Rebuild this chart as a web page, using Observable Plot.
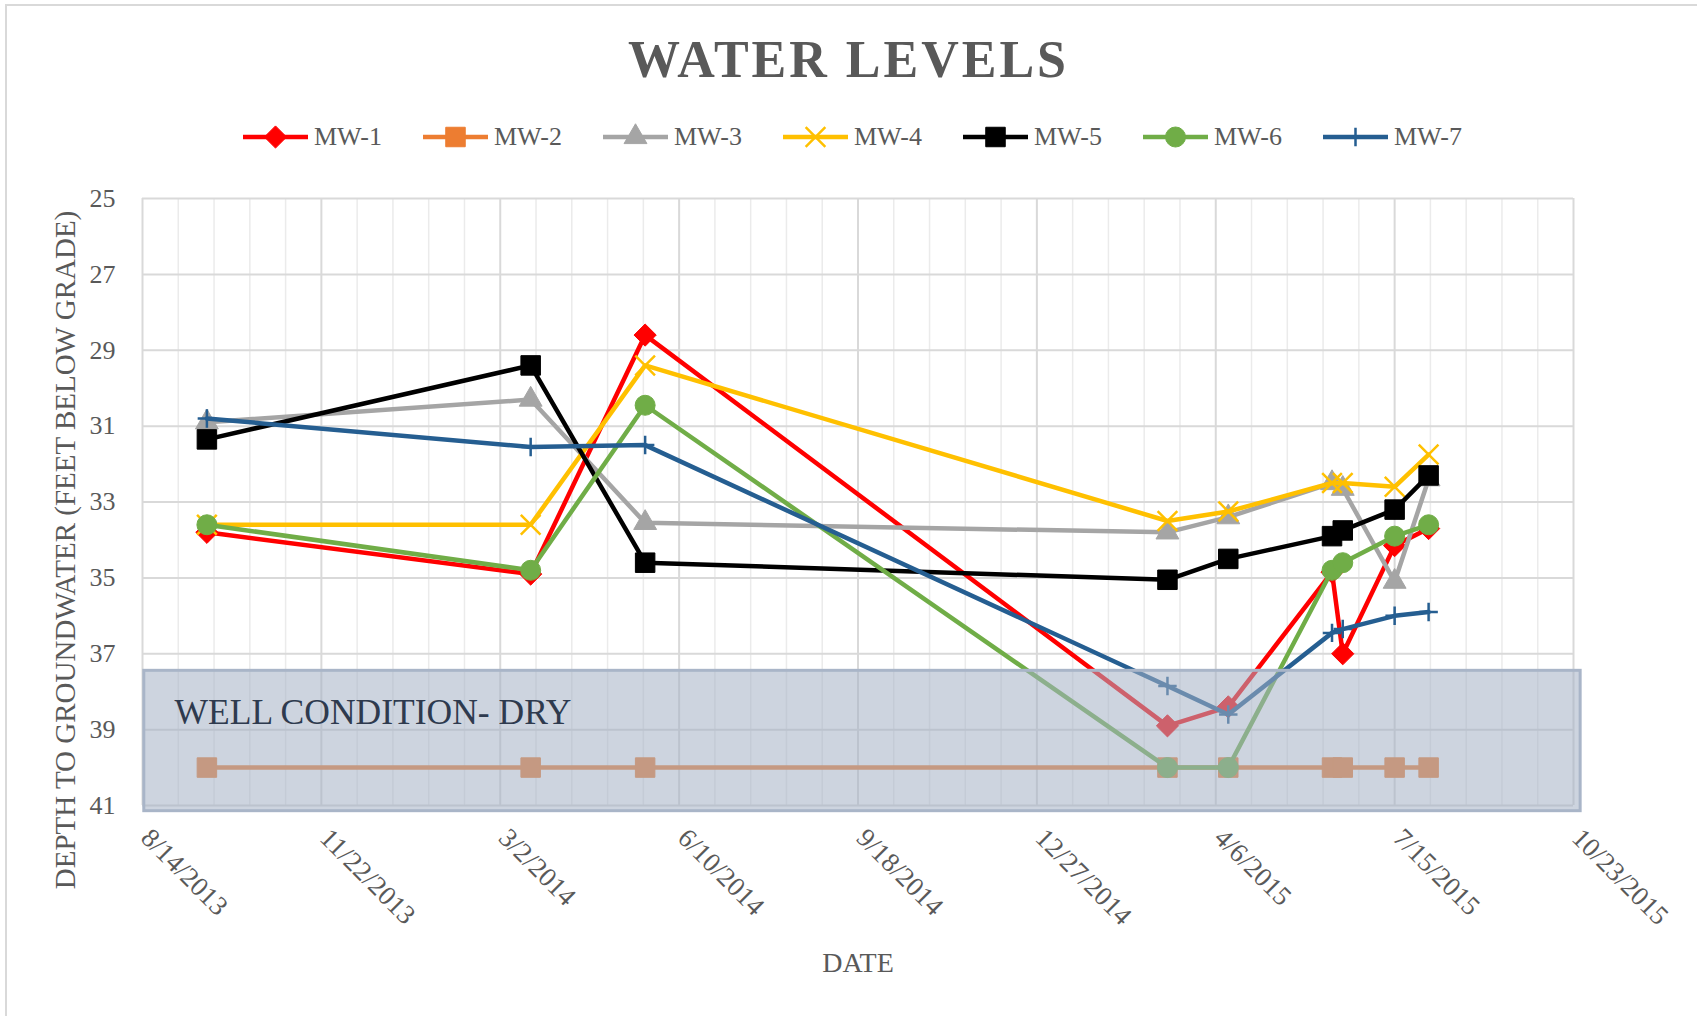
<!DOCTYPE html>
<html><head><meta charset="utf-8">
<script src="https://cdn.jsdelivr.net/npm/d3@7"></script>
<script src="https://cdn.jsdelivr.net/npm/@observablehq/plot@0.6"></script>
<style>
html,body{margin:0;padding:0;background:#fff;overflow:hidden;width:1697px;height:1016px;}
#frame{position:absolute;left:5px;top:4px;width:1800px;height:1100px;border-top:2px solid #d9d9d9;border-left:2px solid #d9d9d9;box-sizing:border-box;z-index:5;pointer-events:none;}
#title{position:absolute;left:0;top:34px;width:1697px;text-align:center;font-family:"Liberation Serif","Times New Roman",serif;font-weight:bold;font-size:52px;line-height:52px;color:#595959;letter-spacing:3px;}
#legend{position:absolute;left:0;top:120px;width:1697px;height:34px;}
.item{position:absolute;top:0;height:34px;display:flex;align-items:center;font-family:"Liberation Serif","Times New Roman",serif;font-size:26px;line-height:34px;color:#595959;}
.item svg{margin-right:6px;}
#chart{position:absolute;left:0;top:165px;}
</style></head>
<body>
<div id="frame"></div>
<div id="title">WATER LEVELS</div>
<div id="legend"></div>
<div id="chart"></div>
<script>
// ---- data ----
const sampleDates = ["9/19/2013","3/19/2014","5/22/2014","3/10/2015","4/13/2015","6/10/2015","6/16/2015","7/15/2015","8/3/2015"];
const seriesNames = ["MW-1","MW-2","MW-3","MW-4","MW-5","MW-6","MW-7"];
const mw1 = [33.8, 34.9, 28.6, 38.9, 38.4, 34.85, 37.0, 34.15, 33.7];
const mw2 = [40, 40, 40, 40, 40, 40, 40, 40, 40];
const mw3 = [30.9, 30.3, 33.55, 33.8, 33.4, 32.5, 32.65, 35.1, 32.4];
const mw4 = [33.6, 33.6, 29.4, 33.5, 33.25, 32.5, 32.5, 32.6, 31.75];
const mw5 = [31.35, 29.4, 34.6, 35.05, 34.5, 33.9, 33.75, 33.2, 32.3];
const mw6 = [33.6, 34.8, 30.45, 40, 40, 34.8, 34.6, 33.9, 33.6];
const mw7 = [30.8, 31.55, 31.5, 37.85, 38.6, 36.45, 36.35, 36.0, 35.9];
const xTickLabels = ["8/14/2013","11/22/2013","3/2/2014","6/10/2014","9/18/2014","12/27/2014","4/6/2015","7/15/2015","10/23/2015"];
const yTicks = [25, 27, 29, 31, 33, 35, 37, 39, 41];
const dryLabel = "WELL CONDITION- DRY";
const dryTop = 37.45, dryBottom = 41.15;
const dryStart = "8/15/2013", dryEnd = "10/27/2015";
const xTitle = "DATE";
const yTitle = "DEPTH TO GROUNDWATER (FEET BELOW GRADE)";

// ---- styles ----
const colors = ["#FF0000","#ED7D31","#A5A5A5","#FFC000","#000000","#70AD47","#255E91"];
const symbols = ["diamond2","square","triangle","times","square","circle","plus"];
const radii = [10, 11, 8.5, 9, 11, 10, 6];
const strokeSyms = new Set(["times","plus"]);
const font = '"Liberation Serif","Times New Roman",serif';

const parse = d3.utcParse("%m/%d/%Y");
const dates = sampleDates.map(parse);
const allValues = [mw1, mw2, mw3, mw4, mw5, mw6, mw7];
const seriesData = seriesNames.map((name, s) => allValues[s].map((v, i) => ({series: name, date: dates[i], value: v})));

const majorTicks = xTickLabels.map(parse);
const minorTicks = [];
for (let i = 0; i < majorTicks.length - 1; i++) for (let k = 1; k < 5; k++) minorTicks.push(d3.utcDay.offset(majorTicks[i], 20 * k));

// ---- legend ----
const legend = document.getElementById("legend");
seriesNames.forEach((name, s) => {
  const div = document.createElement("div");
  div.className = "item";
  div.style.left = (243 + s * 180) + "px";
  const sym = d3.symbol(({diamond2: d3.symbolDiamond2, square: d3.symbolSquare, triangle: d3.symbolTriangle, times: d3.symbolTimes, circle: d3.symbolCircle, plus: d3.symbolPlus})[symbols[s]], Math.PI * radii[s] * radii[s])();
  const isStroke = strokeSyms.has(symbols[s]);
  div.innerHTML = `<svg width="65" height="34"><line x1="0" x2="65" y1="17" y2="17" stroke="${colors[s]}" stroke-width="4.5"/>` +
    `<path transform="translate(32.5,17)" d="${sym}" fill="${isStroke ? "none" : colors[s]}" stroke="${colors[s]}" stroke-width="${isStroke ? 2.5 : 1}"/></svg><span>${name}</span>`;
  legend.appendChild(div);
});

// ---- chart ----
const seriesMarks = [];
seriesData.forEach((data, s) => {
  seriesMarks.push(Plot.line(data, {x: "date", y: "value", stroke: colors[s], strokeWidth: 4.5, strokeLinejoin: "round"}));
  const isStroke = strokeSyms.has(symbols[s]);
  seriesMarks.push(Plot.dot(data, {x: "date", y: "value", symbol: () => symbols[s], r: radii[s],
    fill: isStroke ? "none" : colors[s], stroke: colors[s], strokeWidth: isStroke ? 2.5 : 1}));
});

const chart = Plot.plot({
  width: 1697, height: 845,
  marginLeft: 142, marginRight: 124, marginTop: 33, marginBottom: 205,
  x: {type: "utc", domain: [majorTicks[0], majorTicks[majorTicks.length - 1]], axis: null},
  y: {domain: [25, 41], reverse: true},
  symbol: {type: "identity"},
  style: {fontFamily: font, color: "#595959", background: "white", overflow: "visible"},
  marks: [
    Plot.ruleX(minorTicks, {stroke: "#ebebeb", strokeWidth: 1.5}),
    Plot.ruleX(majorTicks, {stroke: "#d9d9d9", strokeWidth: 2}),
    Plot.ruleY(yTicks, {stroke: "#d9d9d9", strokeWidth: 2}),
    ...seriesMarks,
    Plot.rect([dryLabel], {x1: () => parse(dryStart), x2: () => parse(dryEnd), y1: () => dryTop, y2: () => dryBottom,
      fill: "#a4b1c5", fillOpacity: 0.55, stroke: "#a9b5c8", strokeWidth: 3}),
    Plot.text([dryLabel], {text: d => d, y: () => 38.56, frameAnchor: "left", dx: 32, textAnchor: "start",
      fontSize: 35.5, fill: "#2e3a4e"}),
    Plot.axisY({ticks: yTicks, tickSize: 0, tickPadding: 27, fontSize: 26, label: null, tickFormat: d => d}),
    Plot.text(majorTicks, {x: d => d, text: (d, i) => xTickLabels[i], frameAnchor: "bottom", rotate: 45,
      textAnchor: "start", dx: -3, dy: 34, fontSize: 27, fill: "#595959"}),
    Plot.text([yTitle], {text: d => d, frameAnchor: "left", textAnchor: "middle", dx: -77, dy: 48, rotate: -90, fontSize: 29, fill: "#595959"}),
    Plot.text([xTitle], {text: d => d, frameAnchor: "bottom", textAnchor: "middle", dy: 166, fontSize: 28, fill: "#595959"})
  ]
});
document.getElementById("chart").appendChild(chart);
</script>
</body></html>
